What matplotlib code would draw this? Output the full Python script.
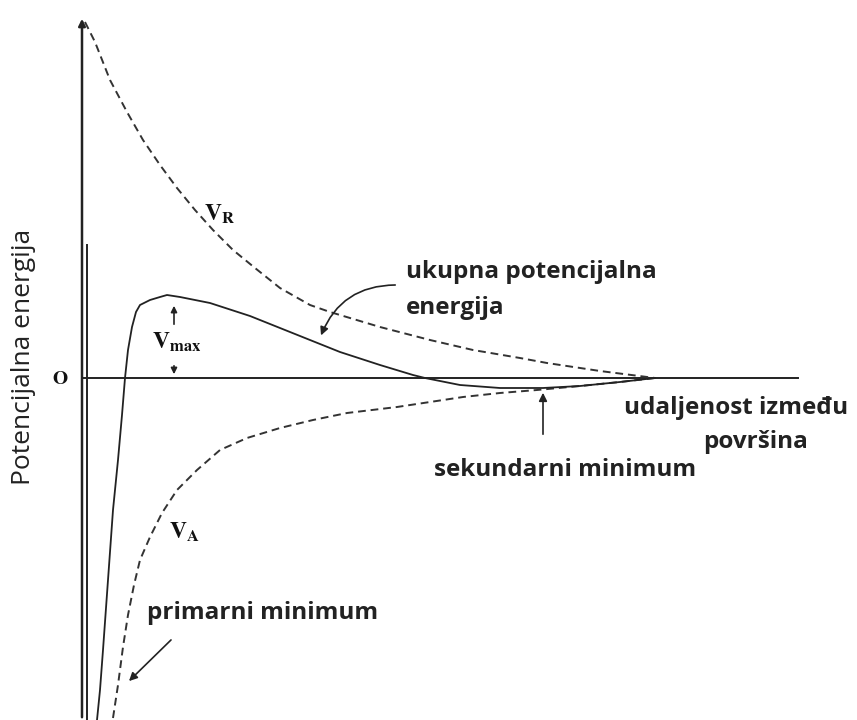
import matplotlib.pyplot as plt

plt.rcParams['mathtext.fontset'] = 'stix'

# distance between surfaces (arbitrary units) and potential energy (arbitrary units)
vr_x = [3, 13, 28, 45, 61, 78, 95, 113, 131, 151, 173, 198, 228, 248, 298, 348, 391, 438, 465, 518, 573]
vr_y = [356, 336, 298, 266, 238, 213, 190, 168, 148, 128, 110, 90, 73, 66, 51, 38, 28, 20, 15, 7, 0]

va_x = [31, 36, 41, 46, 52, 58, 68, 80, 95, 115, 138, 165, 198, 231, 265, 315, 348, 381, 418, 455, 498, 538, 573]
va_y = [-340, -307, -269, -237, -207, -182, -159, -135, -112, -92, -72, -60, -50, -42, -35, -29, -24, -19, -15, -12, -8, -4, 0]

tot_x = [15, 18, 21, 26, 31, 36, 40, 43, 46, 50, 54, 58, 68, 78, 85, 98, 128, 168, 198, 228, 258, 298, 331,
         343, 378, 418, 461, 498, 538, 573]
tot_y = [-342, -312, -272, -202, -132, -82, -37, 0, 28, 51, 66, 73, 78, 81, 83, 81, 75, 62, 50, 38, 26, 13, 3,
         0, -7, -10, -10, -8, -4, 0]

v_max = 83
sec_min_x, sec_min_y = 461, -10

fig = plt.figure(figsize=(8.57, 7.2), dpi=100)
ax = fig.add_axes([0, 0, 1, 1])
ax.set_xlim(-82, 775)
ax.set_ylim(-342, 378)
ax.axis('off')

# axes of the diagram
ax.annotate('', xy=(0, 362), xytext=(0, -342),
            arrowprops=dict(arrowstyle='-|>', color='#222222', lw=1.8, mutation_scale=10))
ax.plot([5, 5], [-342, 133], color='#222222', lw=1.4)
ax.plot([0, 716], [0, 0], color='#222222', lw=1.4)

dash = (0, (4, 2.5))
ax.plot(vr_x, vr_y, color='#333333', lw=1.4, linestyle=dash)
ax.plot(va_x, va_y, color='#333333', lw=1.4, linestyle=dash)
ax.plot(tot_x, tot_y, color='#222222', lw=1.3)

serif = dict(fontsize=17, color='#111111')
ax.text(138, 164, r'$\mathbf{V}_{\mathbf{R}}$', ha='center', va='center', **serif)
ax.text(102, -154, r'$\mathbf{V}_{\mathbf{A}}$', ha='center', va='center', **serif)
ax.text(95, 36, r'$\mathbf{V}_{\mathbf{max}}$', ha='center', va='center', **serif)
ax.text(-22, 0, r'$\mathbf{O}$', ha='center', va='center', fontsize=14, color='#111111')

# V_max arrows
arrow = dict(arrowstyle='-|>', color='#222222', lw=1.2, mutation_scale=9)
ax.annotate('', xy=(92, v_max - 8), xytext=(92, 51), arrowprops=arrow)
ax.annotate('', xy=(92, 1), xytext=(92, 15), arrowprops=arrow)

sans = dict(fontsize=17.5, fontweight='bold', color='#222222', family='Open Sans')
ax.text(324, 106, 'ukupna potencijalna', ha='left', va='center', **sans)
ax.text(324, 70, 'energija', ha='left', va='center', **sans)
ax.annotate('', xy=(238, 40), xytext=(316, 93),
            arrowprops=dict(arrowstyle='-|>', color='#222222', lw=1.2, mutation_scale=12,
                            connectionstyle='arc3,rad=0.35'))

ax.text(654, -30, 'udaljenost između', ha='center', va='center', **sans)
ax.text(674, -64, 'površina', ha='center', va='center', **sans)

ax.text(483, -92, 'sekundarni minimum', ha='center', va='center', **sans)
ax.annotate('', xy=(sec_min_x, sec_min_y - 2), xytext=(sec_min_x, -59),
            arrowprops=dict(arrowstyle='-|>', color='#222222', lw=1.2, mutation_scale=12))

ax.text(65, -235, 'primarni minimum', ha='left', va='center', **sans)
ax.annotate('', xy=(45, -305), xytext=(91, -260),
            arrowprops=dict(arrowstyle='-|>', color='#222222', lw=1.2, mutation_scale=12))

ax.text(-59, 21, 'Potencijalna energija', rotation=90, ha='center', va='center',
        fontsize=19, color='#222222', family='Open Sans')

fig.savefig('out.png', dpi=100)
